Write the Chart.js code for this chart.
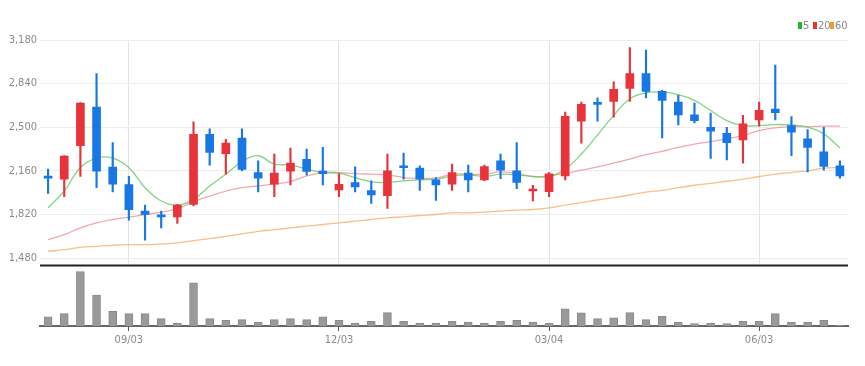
<!DOCTYPE html>
<html>
<head>
<meta charset="utf-8">
<script src="https://cdn.jsdelivr.net/npm/chart.js@4/dist/chart.umd.min.js"></script>
<style>
  html,body{margin:0;padding:0;background:#fff;}
  #wrap{position:relative;width:865px;height:366px;overflow:hidden;background:#fff;}
  #price{position:absolute;left:0;top:0;}
  #vol{position:absolute;left:0;top:263px;}
  .lg{position:absolute;font-family:'Liberation Sans Narrow','DejaVu Sans Condensed',sans-serif;font-size:11px;color:#888;line-height:11px;}
  .sq{position:absolute;width:4px;height:7px;}
</style>
</head>
<body>
<div id="wrap">
  <canvas id="price" width="865" height="274"></canvas>
  <canvas id="vol" width="865" height="103"></canvas>
  <div class="sq" style="left:798px;top:22px;background:#22b82a;"></div>
  <div class="lg" style="left:803px;top:20px;">5</div>
  <div class="sq" style="left:813px;top:22px;background:#e8333b;"></div>
  <div class="lg" style="left:818px;top:20px;">20</div>
  <div class="sq" style="left:830px;top:22px;background:#f39a2c;"></div>
  <div class="lg" style="left:835px;top:20px;">60</div>
</div>
<script>
// Weekly candles
const categories = ['07/30','08/06','08/13','08/20','08/27','09/03','09/10','09/17','09/24','10/01',
  '10/08','10/15','10/22','10/29','11/05','11/12','11/19','11/26','12/03','12/10',
  '12/17','12/24','12/31','01/07','01/14','01/21','01/28','02/04','02/11','02/18',
  '02/25','03/04','03/11','03/18','03/25','04/01','04/08','04/15','04/22','04/29',
  '05/06','05/13','05/20','05/27','06/03','06/10','06/17','06/24','07/01','07/08'];
const tickLabels = ['09/03','12/03','03/04','06/03'];
const priceTicks = [1480,1820,2160,2500,2840,3180];

const openP  = [2118,2095,2356,2657,2189,2053,1846,1812,1802,1899,2445,2294,2416,2147,2056,2158,2249,2158,2011,2069,
  2006,1967,2199,2181,2090,2056,2142,2090,2239,2160,2003,1998,2121,2547,2691,2701,2803,2918,2780,2696,
  2597,2500,2453,2401,2558,2641,2513,2409,2309,2199];
const highP  = [2173,2280,2692,2918,2380,2118,1893,1846,1899,2542,2487,2406,2487,2239,2291,2338,2330,2343,2139,2192,
  2082,2291,2299,2199,2108,2212,2205,2205,2291,2380,2048,2147,2618,2696,2730,2853,3120,3102,2788,2749,
  2688,2610,2500,2592,2696,2984,2584,2482,2500,2239];
const lowP   = [1985,1959,2116,2029,1995,1776,1619,1716,1750,1886,2205,2134,2160,1995,1959,2050,2126,2050,1959,1995,
  1906,1867,2095,2008,1930,2008,1995,2084,2100,2022,1925,1959,2090,2375,2547,2579,2701,2728,2416,2518,
  2534,2257,2246,2220,2508,2558,2278,2152,2165,2103];
const closeP = [2103,2275,2688,2158,2056,1857,1820,1802,1893,2445,2304,2377,2171,2103,2142,2220,2155,2139,2056,2035,
  1972,2160,2184,2095,2050,2147,2090,2194,2165,2069,2014,2137,2586,2678,2678,2796,2918,2780,2709,2597,
  2552,2469,2380,2526,2631,2613,2461,2343,2194,2121];
const volume = [27,37,162,92,44,37,37,22,9,129,22,17,19,12,19,22,19,27,17,9,
  14,40,14,9,9,14,12,9,14,17,12,9,51,39,22,24,40,19,29,12,
  7,9,7,14,14,37,12,12,17,3];
const ma5  = [1872,2003,2186,2260,2260,2186,2029,1925,1893,1938,2042,2134,2233,2278,2212,2207,2173,2147,2142,2108,
  2074,2069,2082,2090,2095,2121,2129,2116,2134,2129,2116,2116,2173,2291,2440,2592,2722,2769,2775,2754,
  2709,2631,2552,2513,2513,2521,2518,2500,2448,2338];
const ma20 = [1624,1663,1716,1755,1781,1799,1820,1839,1865,1920,1964,2003,2029,2042,2056,2076,2121,2147,2147,2139,
  2134,2129,2108,2103,2103,2134,2134,2134,2152,2139,2116,2121,2139,2165,2192,2220,2252,2286,2312,2343,
  2369,2388,2409,2435,2474,2495,2505,2505,2508,2508];
const ma60 = [1533,1546,1564,1572,1580,1585,1585,1590,1598,1616,1632,1650,1669,1689,1702,1716,1729,1742,1755,1768,
  1781,1794,1802,1812,1820,1833,1833,1839,1846,1854,1859,1872,1893,1912,1933,1951,1972,1995,2008,2029,
  2048,2063,2079,2095,2116,2134,2147,2160,2181,2186];

const UP = '#e8333b', DOWN = '#1677e5';
const candleColor = i => closeP[i] >= openP[i] ? UP : DOWN;
const isMarked = i => tickLabels.includes(categories[i]);
const FONT = "'Liberation Sans Narrow','DejaVu Sans Condensed',sans-serif";

const bodies = openP.map((o, i) => [o, closeP[i]]);
const wicks = lowP.map((l, i) => [l, highP[i]]);

// dark separator line under the price panel
const bottomLine = {
  id: 'bottomLine',
  afterDraw(chart) {
    const {ctx, chartArea: a} = chart;
    ctx.save();
    ctx.strokeStyle = '#222';
    ctx.lineWidth = 2;
    ctx.beginPath();
    ctx.moveTo(a.left, a.bottom + 1);
    ctx.lineTo(a.right, a.bottom + 1);
    ctx.stroke();
    ctx.restore();
  }
};

new Chart(document.getElementById('price'), {
  type: 'bar',
  data: {
    labels: categories,
    datasets: [
      {type:'line', label:'5', data: ma5, borderColor:'rgba(100,200,100,0.8)', borderWidth:1.3, pointRadius:0, tension:0.4, order:10},
      {type:'line', label:'20', data: ma20, borderColor:'rgba(238,120,130,0.65)', borderWidth:1.3, pointRadius:0, tension:0.4, order:10},
      {type:'line', label:'60', data: ma60, borderColor:'rgba(244,170,100,0.75)', borderWidth:1.3, pointRadius:0, tension:0.4, order:10},
      {label:'wick', data: wicks, backgroundColor: ctx => candleColor(ctx.dataIndex), barThickness:1.5, grouped:false, order:2},
      {label:'body', data: bodies, backgroundColor: ctx => candleColor(ctx.dataIndex), barThickness:8, minBarLength:2, grouped:false, order:1}
    ]
  },
  plugins: [bottomLine],
  options: {
    responsive:false, animation:false,
    layout:{padding:{left:0,right:17,top:40,bottom:3}},
    plugins:{legend:{display:false}, tooltip:{enabled:false}},
    scales:{
      x:{
        offset:true,
        ticks:{display:false, autoSkip:false},
        grid:{offset:false, lineWidth:1, color: ctx => (ctx.index !== undefined && isMarked(ctx.index)) ? '#e2e2e2' : 'rgba(0,0,0,0)', drawTicks:false},
        border:{display:false}
      },
      y:{
        min:1431, max:3180,
        afterBuildTicks: s => { s.ticks = priceTicks.map(v => ({value:v})); },
        ticks:{callback: v => v.toLocaleString('en-US'), color:'#8a8a8a', font:{family:FONT, size:11}, padding:3},
        grid:{color:'#ececec', drawTicks:false},
        border:{display:false},
        afterFit: s => { s.width = 40; }
      }
    }
  }
});

new Chart(document.getElementById('vol'), {
  type:'bar',
  data:{
    labels: categories,
    datasets:[{label:'volume', data: volume, backgroundColor:'#9a9a9a', borderColor:'#8a8a8a', borderWidth:1, barThickness:8}]
  },
  options:{
    responsive:false, animation:false,
    layout:{padding:{left:40,right:17,top:7,bottom:0}},
    plugins:{legend:{display:false}, tooltip:{enabled:false}},
    scales:{
      x:{
        offset:true,
        ticks:{autoSkip:false, maxRotation:0, padding:3, color:'#8a8a8a', font:{family:FONT, size:11},
          callback: (v, i) => isMarked(i) ? categories[i] : ''},
        grid:{offset:false, drawOnChartArea:false, drawTicks:true, tickLength:5, color: ctx => (ctx.index !== undefined && isMarked(ctx.index)) ? '#555' : 'rgba(0,0,0,0)'},
        border:{color:'#666', width:2},
        afterFit: s => { s.height = 40; }
      },
      y:{display:false, min:0, max:167}
    }
  }
});
</script>
</body>
</html>
